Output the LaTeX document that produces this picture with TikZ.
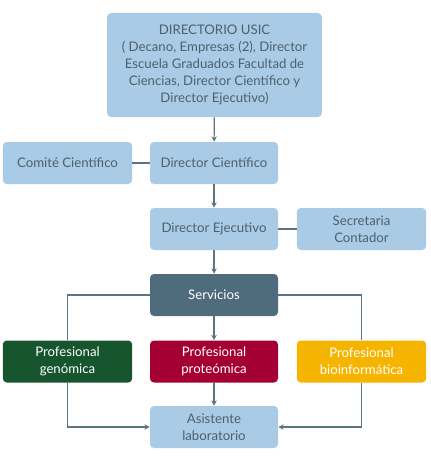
\documentclass[tikz,border=0pt]{standalone}
\usepackage{fontspec}
\setmainfont{Lato}
\usetikzlibrary{arrows.meta}
\definecolor{lb}{HTML}{A9CBE6}
\definecolor{tx}{HTML}{4C616D}
\definecolor{ln}{HTML}{5A7483}
\definecolor{sv}{HTML}{4F6C7C}
\definecolor{gn}{HTML}{17552E}
\definecolor{rd}{HTML}{A50034}
\definecolor{yl}{HTML}{F5B400}
\begin{document}
\begin{tikzpicture}[x=0.75pt,y=-0.75pt,
  box/.style={rounded corners=3pt,inner sep=0pt,align=center,font=\fontsize{9.9}{12.6}\selectfont,minimum width=96pt,minimum height=31.5pt},
  lbox/.style={box,fill=lb,text=tx},
  dbox/.style={box,text=white},
  conn/.style={draw=ln,line width=0.9pt},
  arr/.style={conn,-{Stealth[length=4pt,width=4pt]}}]
\useasboundingbox (0,0) rectangle (430,460);
\node[lbox,minimum width=161pt,minimum height=78pt] (top) at (214.5,65) {DIRECTORIO USIC\\( Decano, Empresas (2), Director\\Escuela Graduados Facultad de\\Ciencias, Director Científico y\\Director Ejecutivo)};
\node[lbox,minimum width=97pt] (com) at (67.5,163) {Comité Científico};
\node[lbox] (dc) at (214,163) {Director Científico};
\node[lbox] (de) at (214,229) {Director Ejecutivo};
\node[lbox,minimum width=97pt] (sec) at (361.5,229) {Secretaria\\Contador};
\node[dbox,fill=sv] (sv) at (214,295) {Servicios};
\node[dbox,fill=gn,minimum width=97pt] (gen) at (67.5,361.5) {Profesional\\genómica};
\node[dbox,fill=rd] (pro) at (214,361.5) {Profesional\\proteómica};
\node[dbox,fill=yl,minimum width=97pt] (bio) at (361.5,361.5) {Profesional\\bioinformática};
\node[lbox] (as) at (214,427) {Asistente\\laboratorio};
\draw[arr] (top) -- (dc);
\draw[conn] (com) -- (dc);
\draw[arr] (dc) -- (de);
\draw[conn] (de) -- (sec);
\draw[arr] (de) -- (sv);
\draw[arr] (sv) -- (pro);
\draw[arr] (pro) -- (as);
\draw[conn] (sv.west) -| (gen.north);
\draw[conn] (sv.east) -| (bio.north);
\draw[arr] (gen.south) |- (as.west);
\draw[arr] (bio.south) |- (as.east);
\end{tikzpicture}
\end{document}
